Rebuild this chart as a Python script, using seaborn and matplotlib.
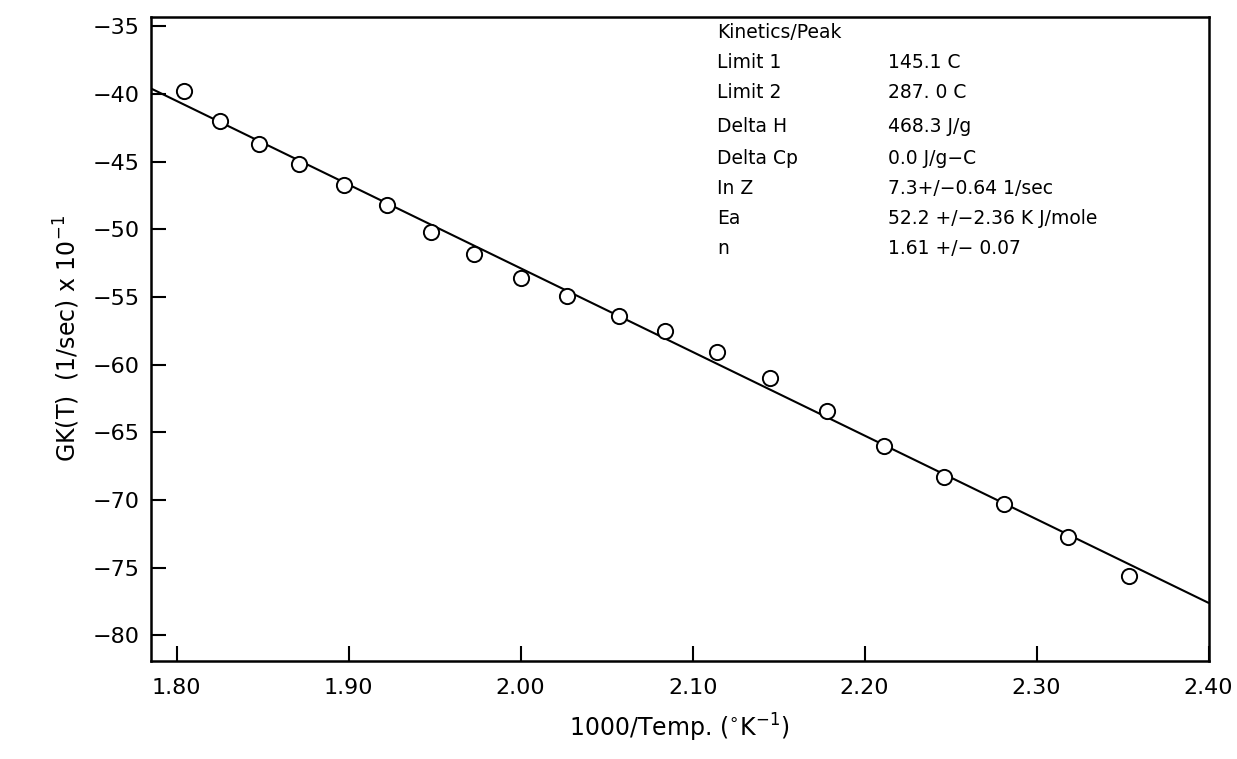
import matplotlib
matplotlib.use('Agg')
import matplotlib.pyplot as plt
import seaborn as sns
import pandas as pd

inv_temp = [1.804, 1.825, 1.848, 1.871, 1.897, 1.922, 1.948, 1.973, 2.000, 2.027,
            2.057, 2.084, 2.114, 2.145, 2.178, 2.211, 2.246, 2.281, 2.318, 2.354]
gk = [-39.8, -42.0, -43.7, -45.2, -46.7, -48.2, -50.2, -51.8, -53.6, -54.9,
      -56.4, -57.5, -59.1, -61.0, -63.4, -66.0, -68.3, -70.3, -72.7, -75.6]

# fitted line end points
fit_x = [1.785, 2.40]
fit_y = [-39.6, -77.6]

xticks = [1.80, 1.90, 2.00, 2.10, 2.20, 2.30, 2.40]
xtick_labels = ['1.80', '1.90', '2.00', '2.10', '2.20', '2.30', '2.40']
yticks = [-35, -40, -45, -50, -55, -60, -65, -70, -75, -80]

info_names = ['Kinetics/Peak', 'Limit 1', 'Limit 2', 'Delta H', 'Delta Cp', 'In Z', 'Ea', 'n']
info_values = ['', '145.1 C', '287. 0 C', '468.3 J/g', '0.0 J/g\u2212C',
               '7.3+/\u22120.64 1/sec', '52.2 +/\u22122.36 K J/mole', '1.61 +/\u2212 0.07']

sns.set_style('ticks')
plt.rcParams['font.family'] = ['DejaVu Sans']
plt.rcParams['mathtext.fontset'] = 'dejavusans'
plt.rcParams['text.color'] = 'black'
plt.rcParams['axes.labelcolor'] = 'black'

df = pd.DataFrame({'x': inv_temp, 'y': gk})
fit = pd.DataFrame({'x': fit_x, 'y': fit_y})

fig = plt.figure(figsize=(12.37, 7.59), dpi=100)
ax = fig.add_axes([0.122, 0.129, 0.855, 0.849])

sns.lineplot(data=fit, x='x', y='y', ax=ax, color='black', linewidth=1.5)
sns.scatterplot(data=df, x='x', y='y', ax=ax, marker='o', s=120,
                facecolor='white', edgecolor='black', linewidth=1.4, zorder=3)

ax.set_xlim(1.785, 2.40)
ax.set_ylim(-81.9, -34.3)
ax.set_xticks(xticks)
ax.set_xticklabels(xtick_labels)
ax.set_yticks(yticks)

for side in ['top', 'right', 'left', 'bottom']:
    ax.spines[side].set_visible(True)
    ax.spines[side].set_linewidth(1.8)
    ax.spines[side].set_color('black')

ax.tick_params(axis='both', direction='in', length=11, width=1.5,
               labelsize=16, colors='black', pad=12)
ax.tick_params(axis='y', pad=8)

ax.set_xlabel(r'1000/Temp. ($^{\circ}$K$^{-1}$)', fontsize=17, labelpad=10)
ax.set_ylabel(r'GK(T)  (1/sec) x 10$^{-1}$', fontsize=17, labelpad=8)

row_y = [32, 62, 92, 126, 159, 189, 219, 249]
for name, value, ypx in zip(info_names, info_values, row_y):
    fig.text(717 / 1237, 1 - ypx / 759, name, fontsize=13.5, va='center', ha='left')
    if value:
        fig.text(888 / 1237, 1 - ypx / 759, value, fontsize=13.5, va='center', ha='left')

fig.savefig('out.png', dpi=100)
